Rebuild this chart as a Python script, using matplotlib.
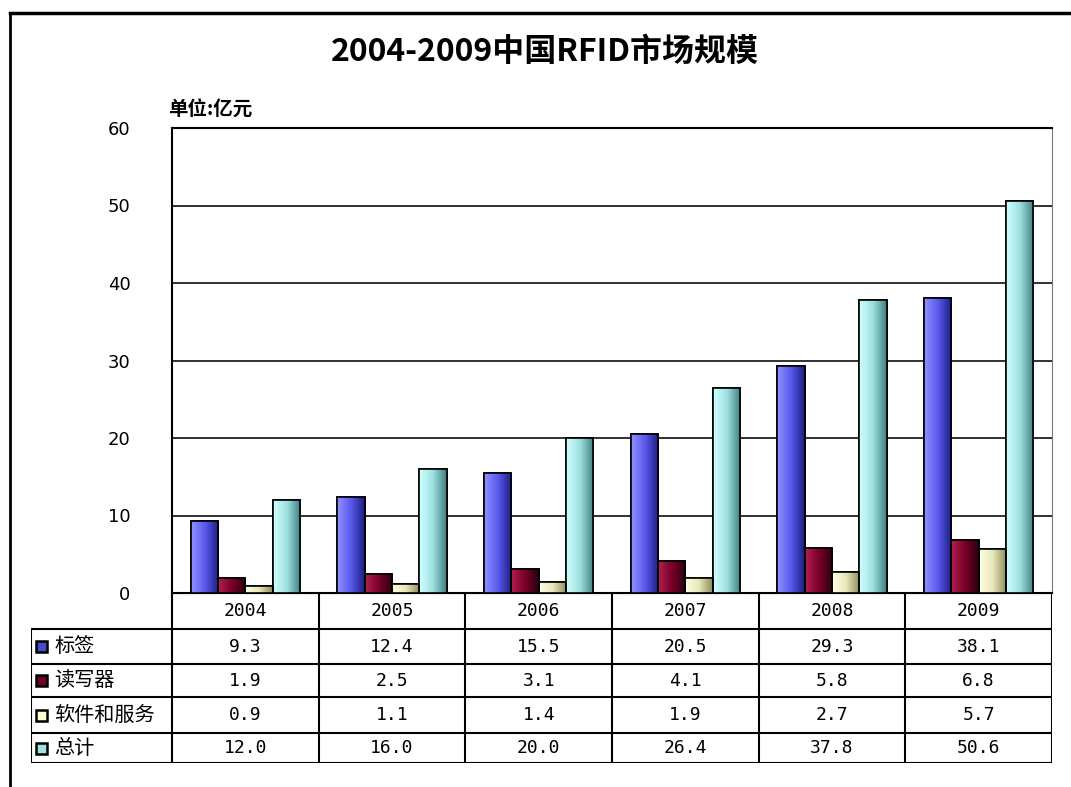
import numpy as np
import matplotlib.pyplot as plt
from matplotlib.colors import LinearSegmentedColormap
from matplotlib.lines import Line2D
from matplotlib.patches import Rectangle

plt.rcParams['font.family'] = ['Noto Sans CJK SC', 'DejaVu Sans']

# 数据
years = ['2004', '2005', '2006', '2007', '2008', '2009']
series = ['标签', '读写器', '软件和服务', '总计']
tags = [9.3, 12.4, 15.5, 20.5, 29.3, 38.1]
readers = [1.9, 2.5, 3.1, 4.1, 5.8, 6.8]
software = [0.9, 1.1, 1.4, 1.9, 2.7, 5.7]
total = [12.0, 16.0, 20.0, 26.4, 37.8, 50.6]
values = [tags, readers, software, total]

# 每个系列的渐变色 (左亮 -> 中 -> 右暗)
grads = [
    ['#9090ff', '#5a5aee', '#1c1c80'],
    ['#b02050', '#7a0028', '#2a0010'],
    ['#ffffe6', '#e8e8b8', '#8a8a60'],
    ['#d0ffff', '#9fe0e0', '#3f7f80'],
]
key_colors = ['#4a4ad0', '#700025', '#ffffcc', '#a0e0e0']

W, H = 1071, 787
fig = plt.figure(figsize=(W / 100, H / 100), dpi=100)

def px(x0, y0, x1, y1):
    return [x0 / W, 1 - y1 / H, (x1 - x0) / W, (y1 - y0) / H]

# 外框
fig.add_artist(Line2D([10 / W, 1], [1 - 13 / H] * 2, color='black', lw=2.5))
fig.add_artist(Line2D([10 / W] * 2, [0, 1 - 13 / H], color='black', lw=2))

ax = fig.add_axes(px(172, 128, 1052, 593))
x = np.arange(len(years))
bw = 0.187
offsets = [-0.28, -0.093, 0.093, 0.28]

for k in range(4):
    cmap = LinearSegmentedColormap.from_list('g%d' % k, grads[k])
    bars = ax.bar(x + offsets[k], values[k], width=bw, color=key_colors[k],
                  edgecolor='black', linewidth=1.2, zorder=3)
    for b in bars:
        x0, w, h = b.get_x(), b.get_width(), b.get_height()
        im = ax.imshow(np.linspace(0, 1, 64).reshape(1, -1), cmap=cmap,
                       extent=[x0, x0 + w, 0, h], aspect='auto', zorder=3.5)
        im.set_clip_path(b)
        ax.add_patch(Rectangle((x0, 0), w, h, fill=False, edgecolor='black',
                               linewidth=1.2, zorder=4))

ax.set_xlim(-0.5, 5.5)
ax.set_ylim(0, 60)
ax.set_yticks(range(0, 61, 10))
ax.set_yticklabels([str(v) for v in range(0, 61, 10)], family='DejaVu Sans',
                   fontsize=13)
ax.tick_params(axis='y', length=0, pad=30)
ax.set_xticks([])
ax.grid(axis='y', color='#222222', linewidth=1.3, zorder=1)
for s in ['left', 'top', 'bottom']:
    ax.spines[s].set_linewidth(1.5)
ax.spines['right'].set_color('#777777')

fig.text(545 / W, 1 - 52 / H, '2004-2009中国RFID市场规模', ha='center',
         va='center', fontsize=23, fontweight='bold')
fig.text(168 / W, 1 - 110 / H, '单位:亿元', ha='left', va='center',
         fontsize=14, fontweight='bold')

# 数据表
tab = fig.add_axes(px(31, 593, 1052, 763))
lab_w = 141 / 146.67
tab.set_xlim(-0.5 - lab_w, 5.5)
rows_px = [593, 629, 664, 697, 733, 763]
tab.set_ylim(763, 593)
tab.axis('off')
lc = dict(color='black', linewidth=1.5)
# 横线
tab.plot([-0.5, 5.5], [593, 593], **lc)
for yy in rows_px[1:]:
    tab.plot([-0.5 - lab_w, 5.5], [yy, yy], **lc)
# 竖线
tab.plot([-0.5 - lab_w] * 2, [629, 763], **lc)
for i in range(7):
    tab.plot([i - 0.5] * 2, [593, 763], **lc)

for i, yr in enumerate(years):
    tab.text(i, 611, yr, ha='center', va='center', fontsize=13,
             family='DejaVu Sans Mono')
for r in range(4):
    yc = (rows_px[r + 1] + rows_px[r + 2]) / 2
    for i in range(6):
        tab.text(i, yc, '%.1f' % values[r][i], ha='center', va='center',
                 fontsize=13, family='DejaVu Sans Mono')
    tab.add_patch(Rectangle((-0.5 - lab_w + 0.035, yc - 5.5), 0.075, 11,
                            facecolor=key_colors[r], edgecolor='black',
                            linewidth=1.8, zorder=3))
    tab.text(-0.5 - lab_w + 0.16, yc, series[r], ha='left', va='center',
             fontsize=14.5, fontweight='medium')

fig.savefig('out.png', dpi=100)
